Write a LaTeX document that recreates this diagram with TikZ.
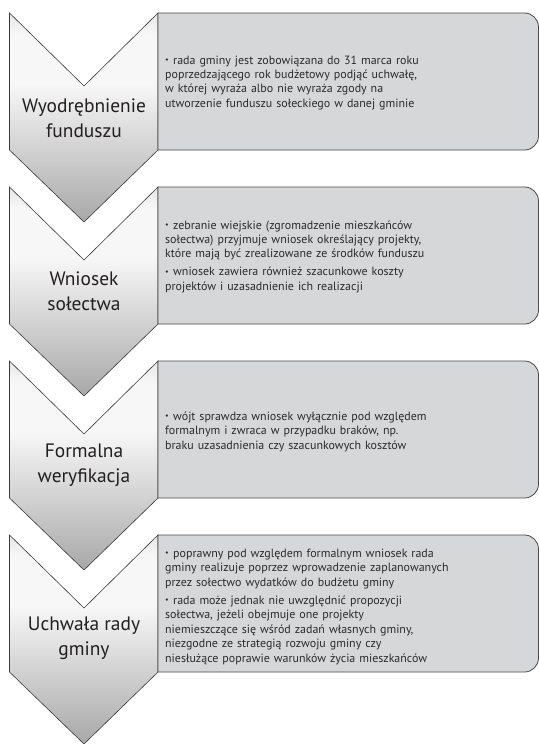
\documentclass[tikz,border=0pt]{standalone}
\usepackage{fontspec}
\setmainfont{PT Sans}

\definecolor{chevtop}{HTML}{E6E6E6}
\definecolor{chevmid}{HTML}{F7F7F7}
\definecolor{chevbot}{HTML}{A8A8A8}
\definecolor{chevline}{HTML}{3A3A3A}
\definecolor{panelfill}{HTML}{D6D7D9}
\definecolor{panelline}{HTML}{4A4A4A}
\definecolor{lbltext}{HTML}{231F20}
\definecolor{bodytext}{HTML}{2B2B2B}

% vertical fade of the chevrons: light at the top, darker towards the tip
\pgfdeclareverticalshading{chevshade}{100bp}{%
  color(0bp)=(chevbot); color(25bp)=(chevbot); color(58bp)=(chevmid);
  color(70bp)=(chevmid); color(75bp)=(chevtop); color(100bp)=(chevtop)}

% one bullet point with hanging indent
\newcommand\bul[1]{\par\hangindent=8bp\hangafter=1\noindent
  \makebox[8bp][l]{\raisebox{0.25ex}{\fontsize{8}{8}\selectfont •}}#1\par}

\begin{document}
\begin{tikzpicture}[x=1bp,y=-1bp,
  chev/.style={draw=chevline, line width=0.6bp, shading=chevshade},
  panel/.style={draw=panelline, line width=0.8bp, fill=panelfill},
  lbl/.style={font=\fontsize{19.5}{25}\selectfont, text=lbltext, align=center, inner sep=0pt},
  body/.style={font=\fontsize{12}{14.5}\selectfont, text=bodytext, anchor=west,
    text width=370bp, inner sep=0pt, execute at begin node={\setlength\parskip{3.5bp}}}]
\useasboundingbox (0,0) rectangle (539,744);

% chevrons and panels, one per step
\foreach \t in {13,187,361,535}{
  \draw[chev] (9.5,\t) -- (84,\t+73) -- (158,\t) -- (158,\t+137)
    -- (84,\t+209) -- (9.5,\t+137) -- cycle;
  \draw[panel] (158,\t) -- (524.5,\t) arc[start angle=-90,end angle=0,radius=14]
    -- (538.5,\t+123) arc[start angle=0,end angle=90,radius=14]
    -- (158,\t+137) -- cycle;
}

% step names
\node[lbl] (s1) at (84,118) {Wyodrębnienie\\funduszu};
\node[lbl] (s2) at (84,291) {Wniosek\\sołectwa};
\node[lbl] (s3) at (84,465) {Formalna\\weryfikacja};
\node[lbl] (s4) at (84,638) {Uchwała rady\\gminy};

% step descriptions
\node[body] (d1) at (165,78) {%
  \bul{rada gminy jest zobowiązana do 31 marca roku\\
  poprzedzającego rok budżetowy podjąć uchwałę,\\
  w której wyraża albo nie wyraża zgody na\\
  utworzenie funduszu sołeckiego w danej gminie}};
\node[body] (d2) at (165,252) {%
  \bul{zebranie wiejskie (zgromadzenie mieszkańców\\
  sołectwa) przyjmuje wniosek określający projekty,\\
  które mają być zrealizowane ze środków funduszu}
  \bul{wniosek zawiera również szacunkowe koszty\\
  projektów i uzasadnienie ich realizacji}};
\node[body] (d3) at (165,427) {%
  \bul{wójt sprawdza wniosek wyłącznie pod względem\\
  formalnym i zwraca w przypadku braków, np.\\
  braku uzasadnienia czy szacunkowych kosztów}};
\node[body] (d4) at (165,602) {%
  \bul{poprawny pod względem formalnym wniosek rada\\
  gminy realizuje poprzez wprowadzenie zaplanowanych\\
  przez sołectwo wydatków do budżetu gminy}
  \bul{rada może jednak nie uwzględnić propozycji\\
  sołectwa, jeżeli obejmuje one projekty\\
  niemieszczące się wśród zadań własnych gminy,\\
  niezgodne ze strategią rozwoju gminy czy\\
  niesłużące poprawie warunków życia mieszkańców}};
\end{tikzpicture}
\end{document}
